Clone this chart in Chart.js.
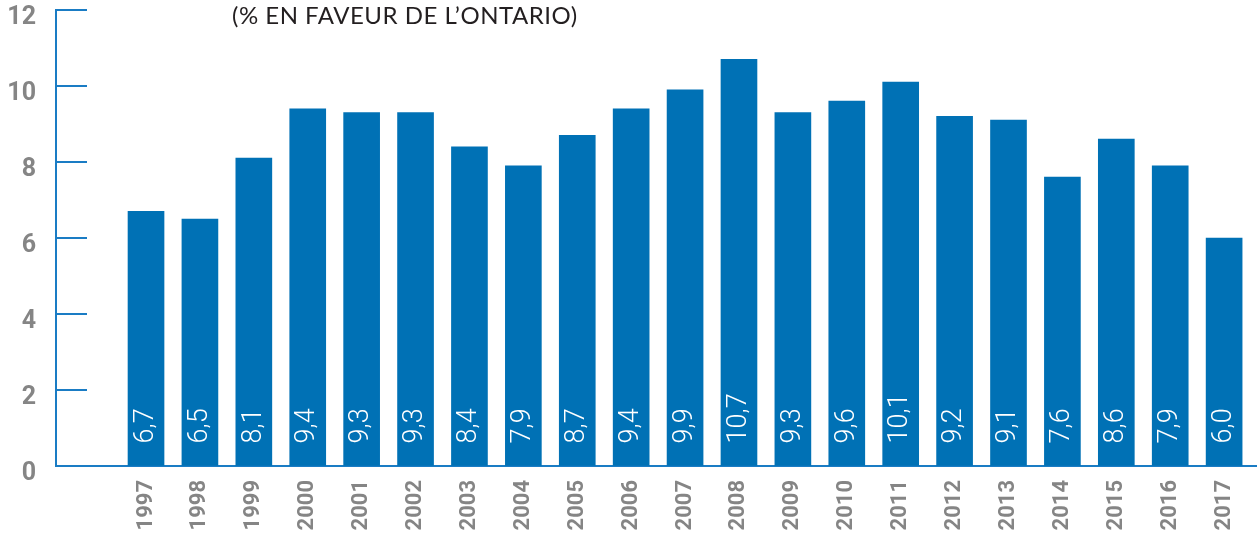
<!DOCTYPE html>
<html>
<head>
<meta charset="utf-8">
<script src="https://cdn.jsdelivr.net/npm/chart.js@4.4.0/dist/chart.umd.min.js"></script>
<style>
  html, body { margin: 0; padding: 0; background: #ffffff; }
  #wrap { position: relative; width: 1257px; height: 533px; }
  #title { position: absolute; left: 232px; top: 0px; font-family: Lato, "Open Sans", sans-serif; font-size: 24px; color: #231f20; white-space: nowrap; letter-spacing: 0.5px; }
</style>
</head>
<body>
<div id="wrap">
  <canvas id="c" width="1257" height="533"></canvas>
  <div id="title">(% EN FAVEUR DE L’ONTARIO)</div>
</div>
<script>
const years = [1997, 1998, 1999, 2000, 2001, 2002, 2003, 2004, 2005, 2006, 2007, 2008, 2009, 2010, 2011, 2012, 2013, 2014, 2015, 2016, 2017];
const values = [6.7, 6.5, 8.1, 9.4, 9.3, 9.3, 8.4, 7.9, 8.7, 9.4, 9.9, 10.7, 9.3, 9.6, 10.1, 9.2, 9.1, 7.6, 8.6, 7.9, 6.0];
const yTicks = [0, 2, 4, 6, 8, 10, 12];

const BAR = '#0071b5';
const AXIS = '#1a7cc4';

const valueLabels = {
  id: 'valueLabels',
  afterDatasetsDraw(chart) {
    const ctx = chart.ctx;
    const meta = chart.getDatasetMeta(0);
    ctx.save();
    ctx.fillStyle = '#ffffff';
    ctx.font = '300 27px Roboto, "Open Sans", sans-serif';
    ctx.textAlign = 'left';
    ctx.textBaseline = 'middle';
    meta.data.forEach((bar, i) => {
      const txt = values[i].toFixed(1).replace('.', ',');
      ctx.save();
      ctx.translate(bar.x, bar.base - 22);
      ctx.rotate(-Math.PI / 2);
      ctx.fillText(txt, 0, 0);
      ctx.restore();
    });
    ctx.restore();
  }
};

const innerTicks = {
  id: 'innerTicks',
  afterDraw(chart) {
    const ctx = chart.ctx;
    const y = chart.scales.y;
    const left = chart.chartArea.left;
    ctx.save();
    ctx.strokeStyle = AXIS;
    ctx.lineWidth = 2;
    yTicks.forEach(v => {
      const py = Math.round(y.getPixelForValue(v));
      ctx.beginPath();
      ctx.moveTo(left, py);
      ctx.lineTo(left + 31, py);
      ctx.stroke();
    });
    ctx.restore();
  }
};

new Chart(document.getElementById('c'), {
  type: 'bar',
  data: {
    datasets: [{
      data: years.map((yr, i) => ({ x: yr, y: values[i] })),
      backgroundColor: BAR,
      borderWidth: 0,
      barThickness: 36
    }]
  },
  options: {
    responsive: false,
    animation: false,
    layout: { padding: { top: 10, right: 0, left: 0, bottom: 0 } },
    plugins: { legend: { display: false }, tooltip: { enabled: false } },
    scales: {
      x: {
        type: 'linear',
        offset: false,
        min: 1995.33,
        max: 2017.61,
        afterBuildTicks: s => { s.ticks = years.map(v => ({ value: v })); },
        afterFit: s => { s.height = 67; s.paddingLeft = 0; s.paddingRight = 0; },
        grid: { display: true, drawOnChartArea: false, drawTicks: false },
        border: { display: true, color: AXIS, width: 2 },
        ticks: {
          autoSkip: false,
          minRotation: 90,
          maxRotation: 90,
          padding: 14,
          color: '#858585',
          font: { family: 'Roboto, "DejaVu Sans", sans-serif', size: 22, weight: 'bold' },
          callback: v => String(v)
        }
      },
      y: {
        min: 0,
        max: 12,
        afterBuildTicks: s => { s.ticks = yTicks.map(v => ({ value: v })); },
        afterFit: s => { s.width = 56; s.paddingTop = 0; s.paddingBottom = 0; },
        grid: { display: true, drawOnChartArea: false, drawTicks: false },
        border: { display: true, color: AXIS, width: 2 },
        ticks: {
          padding: 20,
          labelOffset: 8,
          color: '#858585',
          font: { family: 'Roboto, "DejaVu Sans", sans-serif', size: 25, weight: 'bold' }
        }
      }
    }
  },
  plugins: [valueLabels, innerTicks]
});
</script>
</body>
</html>
